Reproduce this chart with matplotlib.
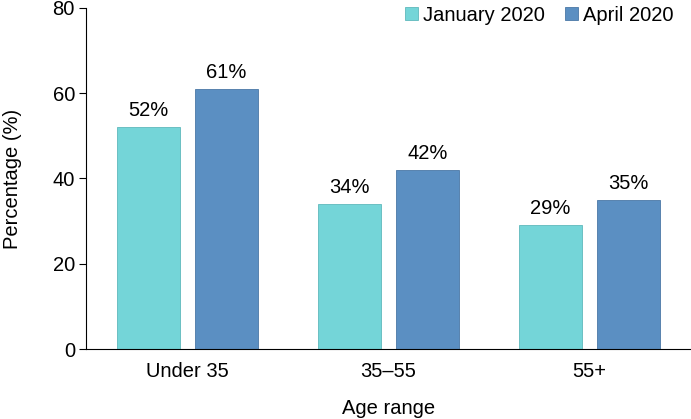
import matplotlib
matplotlib.use("Agg")
import matplotlib.pyplot as plt
import numpy as np

categories = ["Under 35", "35\u201355", "55+"]
series_names = ["January 2020", "April 2020"]
jan_values = [52, 34, 29]
apr_values = [61, 42, 35]
y_ticks = [0, 20, 40, 60, 80]

FS = 14.5
plt.rcParams['font.family'] = ['Liberation Sans', 'DejaVu Sans']
plt.rcParams['font.size'] = FS

fig = plt.figure(figsize=(6.91, 4.19), dpi=100)
ax = fig.add_axes([0.1245, 0.167, 0.8755, 0.814])

x = np.arange(len(categories))
w = 0.313
off = 0.194
c1 = "#74D5D8"
c2 = "#5B8FC2"
b1 = ax.bar(x - off, jan_values, w, color=c1, edgecolor="#5fb9bc", linewidth=0.6, label=series_names[0])
b2 = ax.bar(x + off, apr_values, w, color=c2, edgecolor="#4a78a6", linewidth=0.6, label=series_names[1])

for bars, vals in ((b1, jan_values), (b2, apr_values)):
    for r, v in zip(bars, vals):
        ax.annotate(f"{v}%", (r.get_x() + r.get_width() / 2, v), xytext=(0, 5),
                    textcoords="offset points", ha="center", va="bottom", fontsize=FS)

ax.set_xlim(-0.505, 2.505)
ax.set_ylim(0, 80)
ax.set_yticks(y_ticks)
ax.set_xticks(x)
ax.set_xticklabels(categories)
ax.tick_params(axis='x', length=0, pad=9)
ax.tick_params(axis='y', length=5, width=0.8, pad=3)
for s in ("top", "right"):
    ax.spines[s].set_visible(False)
ax.spines['left'].set_linewidth(0.8)
ax.spines['bottom'].set_linewidth(0.8)
ax.set_xlabel("Age range", labelpad=13)
ax.set_ylabel("Percentage (%)", labelpad=22)

leg = ax.legend(loc="upper right", bbox_to_anchor=(0.985, 1.03), ncol=2, frameon=False,
                handlelength=0.65, handleheight=0.65, handletextpad=0.25, columnspacing=1.0,
                borderaxespad=0, fontsize=FS)

fig.savefig("out.png", dpi=100)
